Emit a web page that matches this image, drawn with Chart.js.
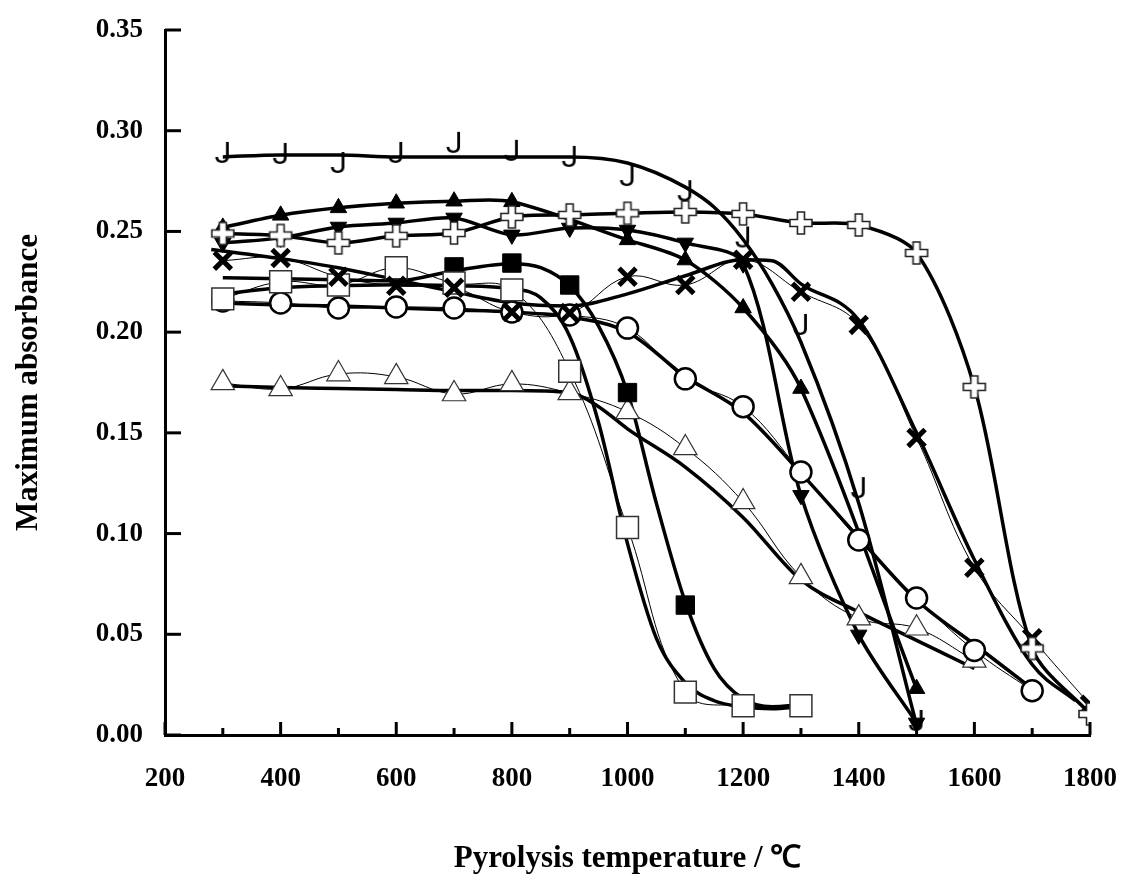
<!DOCTYPE html>
<html>
<head>
<meta charset="utf-8">
<script src="https://cdn.jsdelivr.net/npm/chart.js@4.4.0/dist/chart.umd.min.js"></script>
<style>
  html, body { margin: 0; padding: 0; background: #fff; }
  #wrap { width: 1126px; height: 890px; }
</style>
</head>
<body>
<div id="wrap"><canvas id="absChart" width="1126" height="890"></canvas></div>
<script>
// pyrolysis temperatures where markers sit
const temps = [300, 400, 500, 600, 700, 800, 900, 1000, 1100, 1200, 1300, 1400, 1500, 1600, 1700, 1800];

// marker values (null = no marker)
const jMarks        = [0.288, 0.2875, 0.283, 0.288, 0.293, 0.289, 0.286, 0.2765, 0.269, 0.246, 0.2026, 0.1216, 0.006, null, null, null];
const plusMarks     = [0.249, 0.248, 0.2443, 0.2478, 0.2492, 0.2572, 0.2582, 0.259, 0.2597, 0.2587, 0.2542, 0.2532, 0.2393, 0.1728, 0.043, 0.0104];
const triUpMarks    = [0.252, 0.258, 0.2617, 0.264, 0.265, 0.2647, null, 0.2458, 0.2358, 0.212, 0.172, null, 0.023, null, null, null];
const triDownMarks  = [0.2443, 0.2468, 0.2522, 0.2542, 0.2567, 0.2483, 0.2517, 0.2507, 0.2443, 0.234, 0.119, 0.0497, 0.006, null, null, null];
const xMarks        = [0.2355, 0.2368, 0.2275, 0.223, 0.222, 0.210, 0.2095, 0.2275, 0.2234, 0.236, 0.22, 0.2036, 0.1475, 0.083, 0.048, 0.015];
const sqFillMarks   = [null, null, null, null, 0.2324, 0.2343, 0.2234, 0.17, 0.0645, null, null, null, null, null, null, null];
const sqOpenMarks   = [0.2165, 0.225, 0.2234, 0.232, 0.2244, 0.221, 0.1806, 0.103, 0.0213, 0.0145, 0.0145, null, null, null, null, null];
const circleMarks   = [0.2155, 0.2145, 0.212, 0.2125, 0.212, 0.21, 0.2085, 0.202, 0.1768, 0.163, 0.1306, 0.0968, 0.068, 0.042, 0.022, null];
const triOpenMarks  = [0.1748, 0.1718, 0.1792, 0.1778, 0.1693, 0.1743, 0.1698, 0.1604, 0.1425, 0.1157, 0.0785, 0.058, 0.053, 0.037, null, null];

// thick fitted curves
const jFitT      = [300, 400, 500, 600, 700, 800, 900, 1000, 1100, 1150, 1200, 1250, 1300, 1400, 1500];
const jFitV      = [0.287, 0.288, 0.288, 0.287, 0.287, 0.287, 0.287, 0.284, 0.272, 0.262, 0.246, 0.224, 0.195, 0.115, 0.005];
const sqFillFitT = [300, 400, 500, 600, 700, 800, 850, 900, 950, 1000, 1050, 1100, 1150, 1200, 1250, 1300];
const sqFillFitV = [0.227, 0.2265, 0.226, 0.2255, 0.2305, 0.234, 0.232, 0.223, 0.203, 0.17, 0.115, 0.066, 0.033, 0.018, 0.014, 0.015];
const sqOpenFitT = [300, 400, 500, 600, 700, 800, 850, 900, 950, 1000, 1050, 1100, 1150, 1200, 1250, 1300];
const sqOpenFitV = [0.219, 0.222, 0.223, 0.2235, 0.223, 0.2215, 0.217, 0.198, 0.155, 0.095, 0.048, 0.026, 0.017, 0.014, 0.013, 0.014];
const circleFitT = [300, 400, 500, 600, 700, 800, 900, 1000, 1100, 1200, 1300, 1400, 1500, 1600, 1700];
const circleFitV = [0.2145, 0.2135, 0.213, 0.212, 0.211, 0.21, 0.2075, 0.2, 0.178, 0.16, 0.13, 0.098, 0.067, 0.045, 0.023];
const triOpenFitT = [290, 400, 500, 600, 700, 800, 900, 950, 1000, 1100, 1200, 1300, 1400, 1500, 1600];
const triOpenFitV = [0.1735, 0.1725, 0.172, 0.1715, 0.171, 0.171, 0.17, 0.163, 0.152, 0.133, 0.108, 0.077, 0.061, 0.047, 0.033];
const xFitT      = [280, 400, 500, 600, 700, 800, 900, 1000, 1100, 1200, 1250, 1300, 1400, 1500, 1600, 1700, 1775];
const xFitV      = [0.241, 0.2365, 0.232, 0.226, 0.22, 0.2145, 0.213, 0.219, 0.228, 0.236, 0.2355, 0.224, 0.206, 0.15, 0.087, 0.035, 0.017];

const yTicks = [0, 0.05, 0.10, 0.15, 0.20, 0.25, 0.30, 0.35];
const xTicks = [200, 400, 600, 800, 1000, 1200, 1400, 1600, 1800];

function pts(xs, ys) {
  return xs.map((x, i) => ({ x: x, y: ys[i] })).filter(p => p.y !== null);
}

// open plus marker
function plusImage() {
  var c = document.createElement('canvas');
  c.width = 26; c.height = 26;
  var g = c.getContext('2d');
  var m = 13, a = 11, w = 3.5;
  g.beginPath();
  g.moveTo(m - w, m - a); g.lineTo(m + w, m - a); g.lineTo(m + w, m - w);
  g.lineTo(m + a, m - w); g.lineTo(m + a, m + w); g.lineTo(m + w, m + w);
  g.lineTo(m + w, m + a); g.lineTo(m - w, m + a); g.lineTo(m - w, m + w);
  g.lineTo(m - a, m + w); g.lineTo(m - a, m - w); g.lineTo(m - w, m - w);
  g.closePath();
  g.fillStyle = '#fff'; g.fill();
  g.lineWidth = 1.6; g.strokeStyle = '#222'; g.stroke();
  return c;
}

// the "J" glyph marker
function jImage() {
  var c = document.createElement('canvas');
  c.width = 26; c.height = 34;
  var g = c.getContext('2d');
  g.font = '30px Roboto';
  g.textAlign = 'center';
  g.textBaseline = 'middle';
  g.fillStyle = '#000';
  g.fillText('J', 13, 17);
  return c;
}

function markerSet(data, style) {
  return Object.assign({
    data: data,
    showLine: false,
    pointBorderColor: '#000',
    pointBackgroundColor: '#000',
    pointBorderWidth: 1
  }, style);
}

function lineSet(data, width, smooth) {
  var ds = {
    data: data,
    showLine: true,
    borderColor: '#000',
    borderWidth: width,
    pointRadius: 0,
    fill: false
  };
  if (smooth === 'monotone') ds.cubicInterpolationMode = 'monotone';
  else ds.tension = smooth;
  return ds;
}

const innerTicks = {
  id: 'innerTicks',
  afterDraw(chart) {
    const ctx = chart.ctx;
    const xs = chart.scales.x, ys = chart.scales.y;
    const a = chart.chartArea;
    ctx.save();
    ctx.strokeStyle = '#000';
    ctx.lineWidth = 3;
    for (let v = xs.min; v <= xs.max; v += 100) {
      const px = xs.getPixelForValue(v);
      const len = (v % 200 === 0) ? 13 : 7;
      ctx.beginPath();
      ctx.moveTo(px, a.bottom);
      ctx.lineTo(px, a.bottom - len);
      ctx.stroke();
    }
    yTicks.forEach(function (v) {
      const py = ys.getPixelForValue(v);
      ctx.beginPath();
      ctx.moveTo(a.left, py);
      ctx.lineTo(a.left + 16, py);
      ctx.stroke();
    });
    ctx.restore();
  }
};

const serif = '"Liberation Serif", "Times New Roman", serif';

function drawChart() {
  new Chart(document.getElementById('absChart').getContext('2d'), {
    type: 'scatter',
    data: {
      datasets: [
        markerSet(pts(temps, jMarks), { pointStyle: jImage(), pointRadius: 10 }),
        markerSet(pts(temps, plusMarks), { pointStyle: plusImage(), pointRadius: 11 }),
        markerSet(pts(temps, triDownMarks), { pointStyle: 'triangle', rotation: 180, pointRadius: 9.5 }),
        markerSet(pts(temps, triUpMarks), { pointStyle: 'triangle', pointRadius: 9.5 }),
        markerSet(pts(temps, xMarks), { pointStyle: 'crossRot', pointRadius: 12, pointBorderWidth: 5 }),
        markerSet(pts(temps, sqOpenMarks), { pointStyle: 'rect', pointRadius: 15.5, pointBackgroundColor: '#fff', pointBorderColor: '#333', pointBorderWidth: 1.5 }),
        markerSet(pts(temps, circleMarks), { pointStyle: 'circle', pointRadius: 10.5, pointBackgroundColor: '#fff', pointBorderWidth: 2.5 }),
        markerSet(pts(temps, sqFillMarks), { pointStyle: 'rect', pointRadius: 13 }),
        markerSet(pts(temps, triOpenMarks), { pointStyle: 'triangle', pointRadius: 13.5, pointBackgroundColor: '#fff', pointBorderColor: '#333', pointBorderWidth: 1.2 }),

        // thin smoothed lines through the open markers
        lineSet(pts(temps, sqOpenMarks), 1, 0.4),
        lineSet(pts(temps, circleMarks), 1, 0.4),
        lineSet(pts(temps, triOpenMarks), 1, 0.4),
        lineSet(pts(temps, xMarks), 1, 0.4),

        // thick curves
        lineSet(pts(jFitT, jFitV), 3.5, 'monotone'),
        lineSet(pts(temps, plusMarks), 3.5, 0.3),
        lineSet(pts(temps, triUpMarks), 3.5, 0.3),
        lineSet(pts(temps, triDownMarks), 3.5, 0.3),
        lineSet(pts(sqFillFitT, sqFillFitV), 3.5, 'monotone'),
        lineSet(pts(sqOpenFitT, sqOpenFitV), 3.5, 'monotone'),
        lineSet(pts(circleFitT, circleFitV), 3.5, 'monotone'),
        lineSet(pts(triOpenFitT, triOpenFitV), 3.5, 'monotone'),
        lineSet(pts(xFitT, xFitV), 3.5, 'monotone')
      ]
    },
    options: {
      responsive: false,
      animation: false,
      events: [],
      layout: { padding: { top: 30, right: 36, left: 0, bottom: 0 } },
      scales: {
        x: {
          type: 'linear',
          min: 200,
          max: 1800,
          afterFit: function (s) { s.height = 155; s.paddingLeft = 0; s.paddingRight = 0; },
          afterBuildTicks: function (s) { s.ticks = xTicks.map(v => ({ value: v })); },
          grid: { display: false },
          border: { display: true, color: '#000', width: 3 },
          ticks: {
            color: '#000',
            padding: 20,
            maxRotation: 0,
            callback: function (v) { return String(v); },
            font: { family: serif, size: 27, weight: 'bold' }
          },
          title: {
            display: true,
            text: 'Pyrolysis temperature / \u2103',
            color: '#000',
            padding: { top: 0, bottom: 12 },
            font: { family: serif, size: 31, weight: 'bold' }
          }
        },
        y: {
          min: 0,
          max: 0.35,
          afterFit: function (s) { s.width = 165; s.paddingTop = 0; s.paddingBottom = 0; },
          afterBuildTicks: function (s) { s.ticks = yTicks.map(v => ({ value: v })); },
          grid: { display: false },
          border: { display: true, color: '#000', width: 3 },
          ticks: {
            color: '#000',
            padding: 14,
            callback: function (v) { return v.toFixed(2); },
            font: { family: serif, size: 27, weight: 'bold' }
          },
          title: {
            display: true,
            text: 'Maximum absorbance',
            color: '#000',
            padding: { top: 10, bottom: 0 },
            font: { family: serif, size: 31, weight: 'bold' }
          }
        }
      },
      plugins: {
        legend: { display: false },
        tooltip: { enabled: false }
      }
    },
    plugins: [innerTicks]
  });
}

Promise.all([
  document.fonts.load('30px Roboto'),
  document.fonts.load('bold 27px "Liberation Serif"')
]).then(drawChart, drawChart);
</script>
</body>
</html>
